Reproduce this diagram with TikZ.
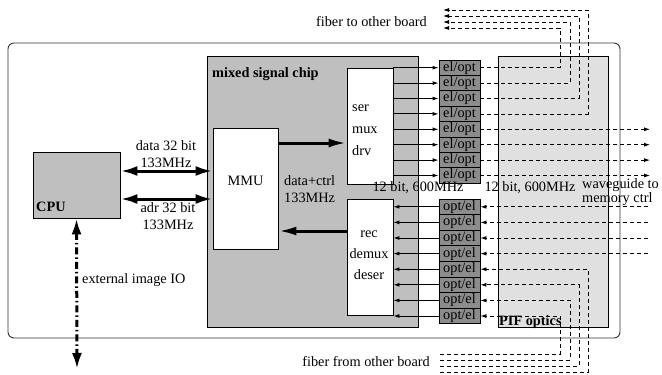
\documentclass[tikz,border=0pt]{standalone}
\usepackage{fontspec}
\setmainfont{Liberation Serif}
\usetikzlibrary{arrows.meta,calc,positioning}
\definecolor{chipgray}{gray}{0.75}
\definecolor{convgray}{gray}{0.55}
\definecolor{pifgray}{gray}{0.88}

\begin{document}
\begin{tikzpicture}[x=1pt,y=-1pt,inner sep=1pt,
    font=\fontsize{14.3}{17}\selectfont,
    box/.style={draw, line width=0.9pt, inner sep=0pt},
    conv/.style={box, fill=convgray, minimum width=41, minimum height=15.5},
    sig/.style={line width=0.9pt, -{Latex[length=6pt,width=4pt]}},
    bus/.style={line width=3pt, {Latex[length=17pt,width=10pt]}-{Latex[length=17pt,width=10pt]}},
    wide/.style={line width=3pt, -{Latex[length=18pt,width=9pt]}},
    iobus/.style={line width=3pt, dash pattern=on 7pt off 3pt on 1.5pt off 3pt,
                  {Latex[length=16pt,width=10pt]}-{Latex[length=16pt,width=10pt]}},
    fiber/.style={line width=0.8pt, dash pattern=on 4pt off 3pt}]
  \useasboundingbox (0,0) rectangle (662,375);
  % board and chips
  \node[draw=black!80, line width=0.9pt, rounded corners=6pt,
        minimum width=612, minimum height=295] (board) at (314,190.5) {};
  \node[box, fill=chipgray, minimum width=211, minimum height=271] (chip) at (312.5,191.5) {};
  \node[anchor=west] (chiplbl) at (211,74) {\textbf{mixed signal chip}};
  \node[box, fill=pifgray, minimum width=110, minimum height=271] (pif) at (553,191.5) {};
  \node[anchor=west] (piflbl) at (498,322) {\textbf{PIF optics}};
  \node[box, fill=chipgray, minimum width=87, minimum height=66] (cpu) at (76.5,185) {};
  \node[anchor=west] (cpulbl) at (35,207) {\textbf{CPU}};
  \node[box, fill=white, minimum width=65, minimum height=121] (mmu) at (245.5,188.5) {};
  \node (mmulbl) at (245.5,181) {MMU};
  \node[box, fill=white, minimum width=46, minimum height=116] (ser) at (370,126) {};
  \node[align=left, anchor=west, font=\fontsize{14.3}{22}\selectfont] (sertxt) at (351,130) {ser\\mux\\drv};
  \node[box, fill=white, minimum width=46, minimum height=116] (rec) at (370,257) {};
  \node[align=center, font=\fontsize{14.3}{21}\selectfont] (rectxt) at (369,255) {rec\\demux\\deser};
  % converters
  \foreach \i in {1,...,8} {
    \node[conv] (eo\i) at (459.5,{67.7+15.4*(\i-1)}) {el/opt};
    \node[conv] (oe\i) at (459.5,{206.8+15.6*(\i-1)}) {opt/el};
    \draw[sig] (ser.east |- eo\i) -- (eo\i.west);
    \draw[sig] (oe\i.west) -- (rec.east |- oe\i);
  }
  % buses
  \coordinate (dbus) at (0,171);
  \coordinate (abus) at (0,199);
  \coordinate (tx) at (0,143);
  \coordinate (rx) at (0,231);
  \draw[bus] (cpu.east |- dbus) -- (mmu.west |- dbus);
  \draw[bus] (cpu.east |- abus) -- (mmu.west |- abus);
  \draw[wide] (mmu.east |- tx) -- (ser.west |- tx);
  \draw[wide] (rec.west |- rx) -- (mmu.east |- rx);
  \node[align=center] (dlbl) at (166,154) {data 32 bit\\133MHz};
  \node[align=center] (albl) at (168,216) {adr 32 bit\\133MHz};
  \node[align=left, anchor=west] (dclbl) at (283,189) {data+ctrl\\133MHz};
  % external IO
  \coordinate (io) at (77,369);
  \draw[iobus] (cpu.south) -- (io);
  \node[anchor=west] (iolbl) at (81,280) {external image IO};
  % rates
  \node (rate1) at (418,188) {12 bit, 600MHz};
  \node (rate2) at (530,188) {12 bit, 600MHz};
  % waveguides
  \coordinate (wgx) at (650,0);
  \coordinate (wix) at (648,0);
  \foreach \i in {5,...,8}
    \draw[fiber, -{Latex[length=6pt,width=4pt]}] (eo\i.east) -- (eo\i.east -| wgx);
  \foreach \i in {1,...,4}
    \draw[fiber, -{Latex[length=6pt,width=4pt]}] (oe\i.east -| wix) -- (oe\i.east);
  \node[align=left, anchor=west, font=\fontsize{14.3}{12}\selectfont] (wglbl) at (581,192) {waveguide to\\memory ctrl};
  % fibers to other board
  \foreach \i/\x/\y in {1/560/28, 2/570/22, 3/579/16, 4/588/10} {
    \coordinate (ft\i) at (443,\y);
    \draw[fiber, -{Latex[length=6pt,width=4pt]}] (eo\i.east) -| (\x,\y) -- (ft\i);
  }
  \node[anchor=east] (ftlbl) at (428,22) {fiber to other board};
  % fibers from other board
  \foreach \i/\x/\y in {5/588/372, 6/579/366, 7/570/360, 8/560/354} {
    \coordinate (fb\i) at (440,\y);
    \draw[fiber, -{Latex[length=6pt,width=4pt]}] (fb\i) -- (\x,\y) |- (oe\i.east);
  }
  \node[anchor=east] (fblbl) at (431,362) {fiber from other board};
\end{tikzpicture}
\end{document}
